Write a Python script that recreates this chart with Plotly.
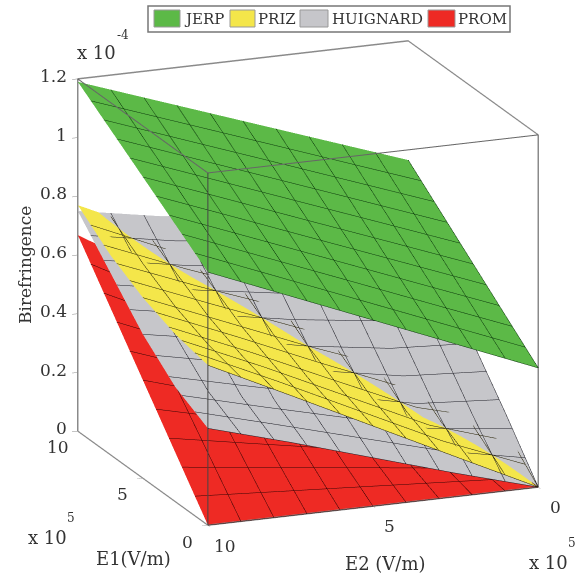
import plotly.graph_objects as go

FONT = "DejaVu Serif"
TEXT = "#333333"

e1_values = [0, 2.5, 5, 7.5, 10]
e2_values = [0, 2.5, 5, 7.5, 10]

# rows follow E2, columns follow E1
jerp = [
    [0.406, 0.503, 0.600, 0.697, 0.794],
    [0.520, 0.613, 0.707, 0.800, 0.893],
    [0.634, 0.724, 0.813, 0.903, 0.992],
    [0.748, 0.834, 0.920, 1.005, 1.091],
    [0.862, 0.944, 1.026, 1.108, 1.190],
]
priz = [
    [0.000, 0.114, 0.210, 0.280, 0.320],
    [0.136, 0.190, 0.280, 0.350, 0.420],
    [0.273, 0.320, 0.385, 0.470, 0.520],
    [0.410, 0.450, 0.500, 0.570, 0.640],
    [0.545, 0.570, 0.615, 0.680, 0.770],
]
huignard = [
    [0.000, 0.170, 0.330, 0.480, 0.620],
    [0.080, 0.190, 0.345, 0.500, 0.640],
    [0.165, 0.255, 0.385, 0.530, 0.670],
    [0.250, 0.320, 0.440, 0.570, 0.700],
    [0.330, 0.390, 0.490, 0.620, 0.750],
]
prom = [
    [0.000, 0.000, 0.000, 0.000, 0.000],
    [0.000, 0.042, 0.084, 0.125, 0.167],
    [0.000, 0.084, 0.167, 0.250, 0.334],
    [0.000, 0.125, 0.250, 0.376, 0.501],
    [0.000, 0.167, 0.334, 0.501, 0.668],
]

series = [
    ("JERP", jerp, "#5cb947", "#0c3a0c"),
    ("PRIZ", priz, "#f4e64a", "#262105"),
    ("HUIGNARD", huignard, "#c6c6ca", "#1c1c24"),
    ("PROM", prom, "#ee2a24", "#350403"),
]

e_ticks = [0, 5, 10]
z_ticks = [0, 0.2, 0.4, 0.6, 0.8, 1, 1.2]
z_labels = ["0", "0.2", "0.4", "0.6", "0.8", "1", "1.2"]
E_MAX = 10
Z_MAX = 1.2

fig = go.Figure()
for name, z, color, line in series:
    fig.add_trace(go.Surface(
        x=e1_values, y=e2_values, z=z, name=name,
        colorscale=[[0, color], [1, color]], showscale=False, showlegend=False,
        lighting=dict(ambient=1, diffuse=0, specular=0, fresnel=0, roughness=1),
        hoverinfo="skip",
        contours=dict(
            x=dict(show=True, start=0, end=10, size=1, color=line, width=3),
            y=dict(show=True, start=0, end=10, size=1, color=line, width=3),
        ),
    ))

# front edges of the bounding box, which the scene does not mirror
fig.add_trace(go.Scatter3d(
    x=[E_MAX, 0, 0], y=[E_MAX, E_MAX, 0], z=[Z_MAX, Z_MAX, Z_MAX],
    mode="lines", line=dict(color="#666666", width=2), showlegend=False, hoverinfo="skip"))
fig.add_trace(go.Scatter3d(
    x=[0, 0], y=[E_MAX, E_MAX], z=[0, Z_MAX],
    mode="lines", line=dict(color="#444444", width=2), showlegend=False, hoverinfo="skip"))

def axis(**kw):
    return dict(showbackground=False, showgrid=False, zeroline=False, showline=True,
                linecolor="#8a8a8a", linewidth=3, mirror=True, ticks="outside",
                ticklen=6, tickcolor="#8a8a8a", showspikes=False, title=dict(text=""),
                showticklabels=False, **kw)

W, H = 581, 575

def note(x, y, text, size=18, angle=0):
    return dict(x=x / W, y=1 - y / H, xref="paper", yref="paper", text=text, showarrow=False,
                xanchor="center", yanchor="middle",
                textangle=angle, font=dict(family=FONT, size=size, color=TEXT))

def box(x0, y0, x1, y1, fill, line, width=1):
    return dict(type="rect", xref="paper", yref="paper", x0=x0 / W, x1=x1 / W,
                y0=1 - y0 / H, y1=1 - y1 / H, fillcolor=fill, line=dict(color=line, width=width))

def tick(x, y, z, text, xshift, yshift, xanchor="center"):
    return dict(x=x, y=y, z=z, text=text, showarrow=False, xshift=xshift, yshift=yshift,
                xanchor=xanchor, yanchor="middle",
                font=dict(family=FONT, size=17, color=TEXT))

scene_notes = (
    [tick(t, E_MAX, 0, str(t), -20, -16) for t in e_ticks]
    + [tick(0, t, 0, str(t), 17, -20) for t in e_ticks]
    + [tick(E_MAX, E_MAX, v, s, -9, 3, "right") for v, s in zip(z_ticks, z_labels)]
)

swatches = [(154, 180, 204), (230, 255, 277), (300, 328, 377), (428, 455, 482)]
shapes = [box(148, 6, 510, 32, "white", "#777777", 1.5)]
annotations = [
    note(25, 265, "Birefringence", 17, -90),
    note(133, 558, "E1(V/m)"),
    note(385, 563, "E2 (V/m)"),
    note(97, 53, "x 10"),
    note(123, 35, "-4", 12),
    note(47, 537, "x 10"),
    note(71, 518, "5", 12),
    note(548, 562, "x 10"),
    note(572, 543, "5", 12),
]
for (name, _, color, _l), (x0, x1, tx) in zip(series, swatches):
    shapes.append(box(x0, 10, x1, 27, color, "#999999"))
    annotations.append(note(tx, 19, name, 15))

fig.update_layout(
    width=W, height=H, margin=dict(l=0, r=0, t=0, b=0), paper_bgcolor="white",
    showlegend=False, shapes=shapes, annotations=annotations,
    scene=dict(
        domain=dict(x=[0.06, 1], y=[0.015, 1]),
        xaxis=axis(range=[0, E_MAX], tickvals=e_ticks),
        yaxis=axis(range=[0, E_MAX], tickvals=e_ticks),
        zaxis=axis(range=[0, Z_MAX], tickvals=z_ticks),
        aspectmode="manual", aspectratio=dict(x=0.954 * 1.3, y=0.967 * 1.3, z=1.3),
        annotations=scene_notes,
        camera=dict(projection=dict(type="orthographic"),
                    eye=dict(x=-0.8893 * 1.543, y=0.3549 * 1.543, z=0.2886 * 1.543),
                    up=dict(x=0, y=0, z=1), center=dict(x=0, y=0, z=0)),
    ),
)
fig.write_html("out.html", config=dict(displayModeBar=False),
               post_script="document.body.style.margin='0';document.body.style.overflow='hidden';")
